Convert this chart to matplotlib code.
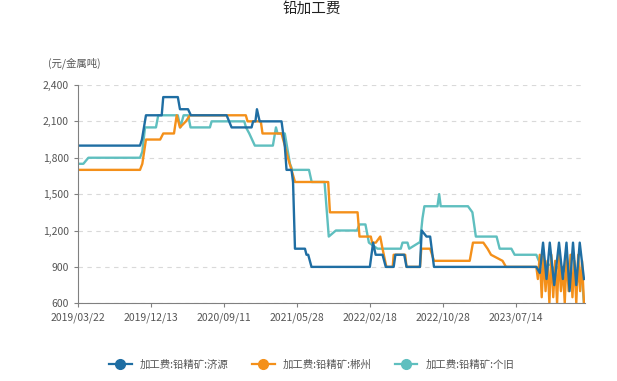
"""
铅加工费 chart: three lead concentrate processing-fee series (weekly)
"""
import matplotlib
matplotlib.use("Agg")
import matplotlib.pyplot as plt
from matplotlib.lines import Line2D
from matplotlib.ticker import FuncFormatter

plt.rcParams['font.family'] = ['Noto Sans CJK SC', 'DejaVu Sans']

# x is the observation number (one per weekly quote, category axis), 0 = 2019/03/22
last_obs = 264
tick_obs = [0, 38, 76, 114, 152, 190, 228]
tick_labels = ['2019/03/22', '2019/12/13', '2020/09/11', '2021/05/28',
               '2022/02/18', '2022/10/28', '2023/07/14']

# turning points of each series: observation number and fee (元/金属吨)
jiyuan_obs = [0, 32.3, 33.3, 35.4, 43.6, 44.4, 52, 53.1, 57.3, 58.8, 77.4, 80, 90.4, 91.2,
              92.4, 93.2, 94.6, 106, 107.7, 108.6, 111.2, 112, 113, 118.2, 119, 119.9, 121.6,
              152, 153.7, 155, 158.6, 160.3, 164.4, 165.3, 169.9, 171.1, 178.1, 179, 181.5,
              183.4, 185.4, 238.7, 240.5, 242.2, 244, 245.7, 248, 250.5, 252.5, 254.4, 256,
              257.8, 259.5, 261.3, 263.5]
jiyuan_vals = [1900, 1900, 1950, 2150, 2150, 2300, 2300, 2200, 2200, 2150, 2150, 2050, 2050, 2100,
               2100, 2200, 2100, 2100, 1900, 1700, 1700, 1600, 1050, 1050, 1000, 1000, 900,
               900, 1100, 1000, 1000, 900, 900, 1000, 1000, 900, 900, 1200, 1150,
               1150, 900, 900, 850, 1100, 800, 1100, 750, 1100, 800, 1100, 700,
               1100, 750, 1100, 800]

chenzhou_obs = [0, 32.3, 33.5, 35.4, 42.8, 44.4, 50, 51.4, 53.1, 56.2, 58.3, 77.4, 87.4, 88.3,
                95.2, 96.1, 106, 107.7, 109.3, 111.2, 113, 130.3, 131.2, 145.6, 146.6, 152.5,
                153.2, 155.1, 157.4, 158.6, 160.6, 163.9, 164.4, 170.4, 171.1, 178.1, 178.8,
                183.4, 185.4, 204, 205.7, 211.1, 213.3, 215.1, 221.1, 222.9, 236.7, 238.7,
                239.5, 240.5, 241.5, 242.5, 243.5, 244.5, 245.5, 246.5, 247.5, 248.5, 249.5,
                250.5, 251.5, 252.5, 253.5, 254.5, 255.5, 256.5, 257.5, 258.5, 259.5, 260.5,
                261.5, 262.5, 263.5]
chenzhou_vals = [1700, 1700, 1750, 1950, 1950, 2000, 2000, 2150, 2050, 2100, 2150, 2150, 2150, 2100,
                 2100, 2000, 2000, 1900, 1800, 1700, 1600, 1600, 1350, 1350, 1150, 1150,
                 1100, 1100, 1150, 1050, 900, 900, 1000, 1000, 900, 900, 1050,
                 1050, 950, 950, 1100, 1100, 1050, 1000, 950, 900, 900, 900,
                 800, 1000, 650, 1000, 700, 950, 600, 1000, 650, 950, 600,
                 1000, 700, 900, 600, 1000, 700, 1000, 650, 950, 600, 1000,
                 700, 950, 600]

gejiu_obs = [0, 2.8, 5.4, 32.3, 33.5, 34.9, 40.6, 41.8, 52, 53.3, 55, 57.4, 58.6, 68.7, 69.6,
             86.6, 87.5, 89.2, 92.1, 101.5, 103.1, 103.9, 107.7, 110.4, 111.6, 120.3, 121.7,
             128.4, 130.6, 134.3, 145.3, 146.6, 149.7, 151.5, 156, 159.6, 168.1, 169, 171.6,
             172.5, 177.6, 178.1, 179.4, 180.4, 187.2, 188.1, 188.9, 203.1, 205.4, 207.2,
             218, 219.6, 225.7, 227.4, 238.7, 240, 242, 243, 246, 248, 250, 251, 254, 255,
             257, 259, 261, 262.5, 263.5]
gejiu_vals = [1750, 1750, 1800, 1800, 1850, 2050, 2050, 2150, 2150, 2050, 2150, 2150, 2050, 2050, 2100,
              2100, 2050, 2000, 1900, 1900, 2050, 2000, 2000, 1750, 1700, 1700, 1600,
              1600, 1150, 1200, 1200, 1250, 1250, 1100, 1050, 1050, 1050, 1100, 1100,
              1050, 1100, 1100, 1300, 1400, 1400, 1500, 1400, 1400, 1350, 1150,
              1150, 1050, 1050, 1000, 1000, 950, 980, 900, 920, 880, 900, 850, 870, 820,
              800, 820, 780, 800, 600]

series_names = ['加工费:铅精矿:济源', '加工费:铅精矿:郴州', '加工费:铅精矿:个旧']
series_colors = ['#1f6ea3', '#f4901a', '#5fbfbf']

fig = plt.figure(figsize=(6.17, 3.81), dpi=100)
ax = fig.add_axes([0.1264, 0.204, 0.8216, 0.573])

all_obs = [jiyuan_obs, chenzhou_obs, gejiu_obs]
all_vals = [jiyuan_vals, chenzhou_vals, gejiu_vals]
# teal first so blue and orange sit on top, as in the original
for i in [2, 1, 0]:
    ax.plot(all_obs[i], all_vals[i], color=series_colors[i], lw=1.7)

ax.set_xlim(0, last_obs)
ax.set_ylim(600, 2400)
ax.set_yticks(range(600, 2401, 300))
ax.yaxis.set_major_formatter(FuncFormatter(lambda v, p: f'{int(v):,}'))
ax.set_xticks(tick_obs)
ax.set_xticklabels(tick_labels)

ax.grid(axis='y', color='#d9d9d9', linestyle=(0, (4, 4)), lw=0.8)
ax.set_axisbelow(True)
for side in ['top', 'right']:
    ax.spines[side].set_visible(False)
for side in ['left', 'bottom']:
    ax.spines[side].set_color('#808080')
ax.tick_params(axis='both', colors='#808080', labelcolor='#555555', labelsize=7.5, length=3)

fig.text(0.505, 0.995, '铅加工费', ha='center', va='top', fontsize=10.5, color='#222222')
fig.text(0.078, 0.835, '(元/金属吨)', ha='left', va='center', fontsize=7.5, color='#555555')

handles = [Line2D([0], [0], color=c, lw=1.6, marker='o', markersize=7) for c in series_colors]
fig.legend(handles, series_names, loc='center', bbox_to_anchor=(0.505, 0.042), ncol=3,
           frameon=False, fontsize=7.5, handlelength=2.2, columnspacing=2.2,
           labelcolor='#555555')

fig.savefig('out.png', dpi=100)
